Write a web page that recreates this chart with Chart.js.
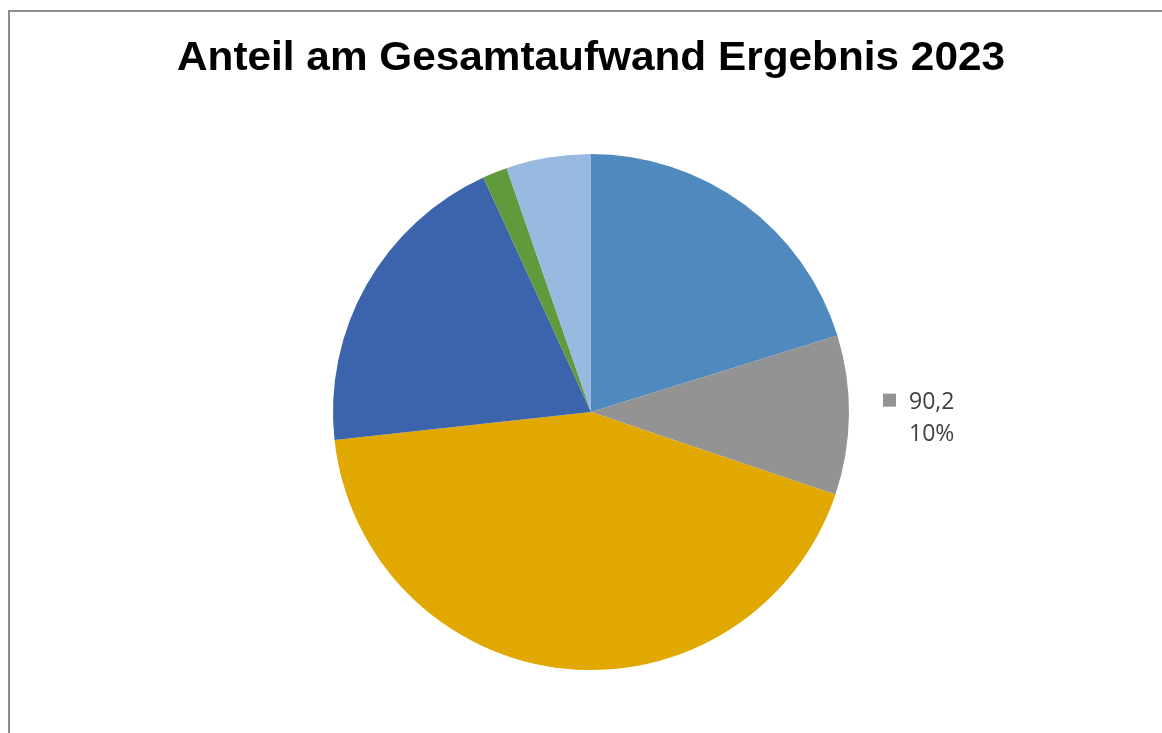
<!DOCTYPE html>
<html>
<head>
<meta charset="utf-8">
<script src="https://cdn.jsdelivr.net/npm/chart.js@4"></script>
<style>
  html, body { margin: 0; padding: 0; background: #fff; }
  #wrap { position: relative; width: 1162px; height: 733px; overflow: hidden; }
  #frame { position: absolute; left: 8px; top: 10px; width: 1200px; height: 800px;
           border-left: 2px solid #8c8c8c; border-top: 2px solid #8c8c8c; }
  canvas { position: absolute; left: 0; top: 0; }
</style>
</head>
<body>
<div id="wrap">
  <div id="frame"></div>
  <canvas id="pie" width="1162" height="733"></canvas>
</div>
<script>
const chartTitle = 'Anteil am Gesamtaufwand Ergebnis 2023';
const categories = ['Personal', 'Sonstiges', 'Transfer', 'Sachaufwand', 'Zinsen', 'Abschreibungen'];
const values = [183, 90.2, 390, 180, 14, 48];
const colors = ['#4f89bd', '#939393', '#e0a800', '#3c64ac', '#5f9a3c', '#98b9e0'];
// only this slice carries a data label
const labelled = [1];

const fmt = v => v.toLocaleString('de-DE', { minimumFractionDigits: 1 });

const decorations = {
  id: 'decorations',
  afterDraw(chart) {
    const ctx = chart.ctx;
    // title, squeezed to the width it occupies
    ctx.save();
    ctx.font = 'bold 41px "Liberation Sans", Arial, sans-serif';
    ctx.fillStyle = '#000';
    ctx.textBaseline = 'alphabetic';
    const w = ctx.measureText(chartTitle).width;
    const target = 828;
    ctx.translate(591, 70);
    ctx.scale(target / w, 1);
    ctx.textAlign = 'center';
    ctx.fillText(chartTitle, 0, 0);
    ctx.restore();

    // data labels outside the slice
    const meta = chart.getDatasetMeta(0);
    const total = values.reduce((a, b) => a + b, 0);
    labelled.forEach(i => {
      const arc = meta.data[i];
      const mid = (arc.startAngle + arc.endAngle) / 2;
      const r = arc.outerRadius + 34;
      const x = arc.x + Math.cos(mid) * r;
      const y = arc.y + Math.sin(mid) * r;
      ctx.save();
      ctx.fillStyle = colors[i];
      ctx.fillRect(x, y - 22, 13, 13);
      ctx.font = '23px "Open Sans", "Liberation Sans", sans-serif';
      ctx.fillStyle = '#404040';
      ctx.textBaseline = 'middle';
      ctx.textAlign = 'left';
      ctx.fillText(fmt(values[i]), x + 26, y - 13);
      ctx.fillText(Math.round(values[i] / total * 100) + '%', x + 26, y + 19);
      ctx.restore();
    });
  }
};

new Chart(document.getElementById('pie'), {
  type: 'pie',
  data: {
    labels: categories,
    datasets: [{ data: values, backgroundColor: colors, borderWidth: 0 }]
  },
  options: {
    responsive: false,
    animation: false,
    layout: { padding: { top: 154, bottom: 63, left: 333, right: 313 } },
    plugins: { legend: { display: false }, tooltip: { enabled: false }, title: { display: false } }
  },
  plugins: [decorations]
});
</script>
</body>
</html>
